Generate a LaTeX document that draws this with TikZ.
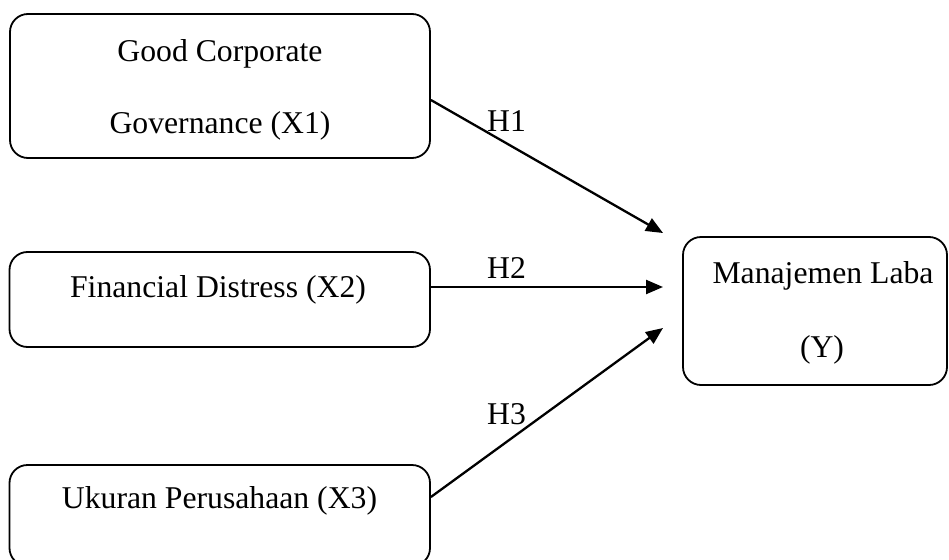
\documentclass[tikz,border=0pt]{standalone}
\usepackage{fontspec}
\setmainfont{Liberation Serif}
\usetikzlibrary{arrows.meta}
\begin{document}
\begin{tikzpicture}[x=1pt,y=-1pt,
  box/.style={draw, line width=1.8pt, rounded corners=18pt, inner sep=0pt},
  lbl/.style={font=\fontsize{31.7}{38}\selectfont, anchor=base, inner sep=0pt},
  hlbl/.style={font=\fontsize{31.7}{38}\selectfont, anchor=base west, inner sep=0pt},
  arr/.style={line width=2.3pt, -{Triangle[length=17pt,width=14pt]}}]
\useasboundingbox (0,0) rectangle (949,559);
\clip (0,0) rectangle (949,559);
% boxes
\node[box, minimum width=420pt, minimum height=144pt] (b1) at (220,86) {};
\node[box, minimum width=420.5pt, minimum height=95pt] (b2) at (219.75,299.5) {};
\node[box, minimum width=420.5pt, minimum height=101pt] (b3) at (219.75,515.5) {};
\node[box, minimum width=264pt, minimum height=148pt] (by) at (815,311) {};
% texts
\node[lbl] (t1a) at (220,62) {Good Corporate};
\node[lbl] (t1b) at (220,133) {Governance (X1)};
\node[lbl] (t2) at (218,297) {Financial Distress (X2)};
\node[lbl] (t3) at (219.5,508) {Ukuran Perusahaan (X3)};
\node[lbl] (ty1) at (823,283) {Manajemen Laba};
\node[lbl] (ty2) at (822,357) {(Y)};
% arrow ends
\coordinate (e1) at (663,233);
\coordinate (e2) at (663,287);
\coordinate (e3) at (663,328);
% arrows
\draw[arr] ([yshift=-14pt]b1.east) -- (e1);
\draw[arr] ([yshift=12.5pt]b2.east) -- (e2);
\draw[arr] ([yshift=18.5pt]b3.east) -- (e3);
% hypothesis labels
\node[hlbl] (h1) at (487,131) {H1};
\node[hlbl] (h2) at (487,278) {H2};
\node[hlbl] (h3) at (487,424) {H3};
\end{tikzpicture}
\end{document}
